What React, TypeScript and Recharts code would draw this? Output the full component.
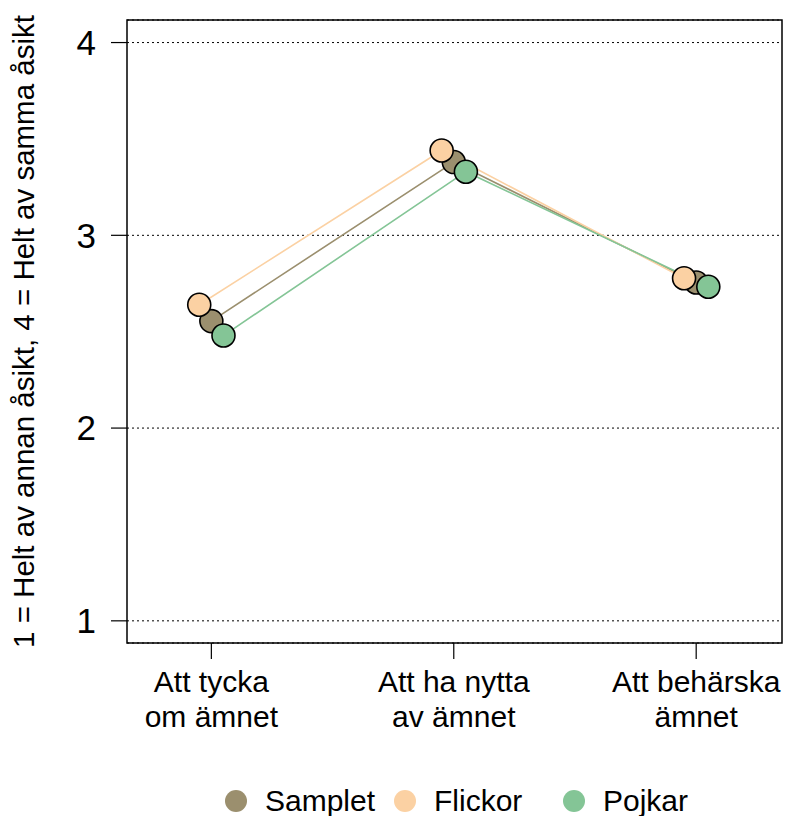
import React from "react";
import { ComposedChart, Line, Scatter, XAxis, YAxis, CartesianGrid, ReferenceArea, Legend } from "recharts";

// categories on the x axis (two lines each)
const categories = [
	["Att tycka", "om ämnet"],
	["Att ha nytta", "av ämnet"],
	["Att behärska", "ämnet"],
];
const yTicks = [1, 2, 3, 4];

// mean values
const samplet = [2.555, 3.38, 2.755];
const flickor = [2.64, 3.44, 2.777];
const pojkar = [2.48, 3.33, 2.733];

const seriesDefs = [
	{ name: "Samplet", values: samplet, color: "#9b8f6e", offset: 0 },
	{ name: "Flickor", values: flickor, color: "#fbd1a3", offset: -0.05 },
	{ name: "Pojkar", values: pojkar, color: "#84c596", offset: 0.05 },
];

const font = "'Liberation Sans', Arial, Helvetica, sans-serif";
const xDomain = [0.652, 3.354];
const yDomain = [0.885, 4.117];

const toPoints = (values: number[], offset: number) => values.map((v, i) => ({ x: i + 1 + offset, y: v }));

function CategoryTick(props: any) {
	const { x, y, payload } = props;
	const lines = categories[Math.round(payload.value) - 1] || [];
	return (
		<text x={x} textAnchor="middle" fontSize={30} fontFamily={font} fill="#000">
			{lines.map((l, i) => (
				<tspan key={i} x={x} y={y + 33 + i * 35}>{l}</tspan>
			))}
		</text>
	);
}

function YLabel(props: any) {
	const vb = props.viewBox || {};
	const cy = vb.y + vb.height / 2;
	return (
		<text x={23} y={cy} transform={`rotate(-90, 23, ${cy})`} textAnchor="middle" dominantBaseline="central" fontSize={29.5} fontFamily={font} fill="#000">
			1 = Helt av annan åsikt, 4 = Helt av samma åsikt
		</text>
	);
}

function LegendContent() {
	return (
		<div style={{ height: 50, paddingTop: 20, boxSizing: "border-box", display: "flex", alignItems: "center", paddingLeft: 225, fontFamily: font, fontSize: 30 }}>
			{seriesDefs.map(s => (
				<div key={s.name} style={{ width: 169, display: "flex", alignItems: "center", height: 30 }}>
					<span style={{ width: 22, height: 22, borderRadius: 11, background: s.color, display: "inline-block", marginRight: 18 }} />
					<span style={{ lineHeight: "30px" }}>{s.name}</span>
				</div>
			))}
		</div>
	);
}

export default function App() {
	return (
		<div style={{ position: "absolute", left: 0, top: 0, background: "#fff" }}>
			<ComposedChart width={786} height={816} margin={{ top: 20, right: 4, left: 0, bottom: 0 }}>
				<CartesianGrid vertical={false} stroke="#000" strokeDasharray="2 3" strokeWidth={1} />
				<XAxis type="number" dataKey="x" domain={xDomain} ticks={[1, 2, 3]} allowDataOverflow axisLine={false}
					tickLine={{ stroke: "#000", strokeWidth: 1.2 }} tickSize={16} tickMargin={0} height={123} tick={<CategoryTick />} interval={0} />
				<YAxis type="number" dataKey="y" domain={yDomain} ticks={yTicks} allowDataOverflow axisLine={false} width={127}
					tickLine={{ stroke: "#000", strokeWidth: 1.2 }} tickSize={16} tickMargin={15}
					tick={{ fontSize: 35, fontFamily: font, fill: "#000" }} label={{ content: <YLabel /> }} />
				<ReferenceArea x1={xDomain[0]} x2={xDomain[1]} y1={yDomain[0]} y2={yDomain[1]} fill="none" stroke="#000" strokeWidth={1.5} ifOverflow="visible" />
				{seriesDefs.map(s => (
					<Line key={"l" + s.name} data={toPoints(s.values, s.offset)} dataKey="y" stroke={s.color} strokeWidth={1.6} dot={false} activeDot={false} isAnimationActive={false} legendType="none" />
				))}
				{seriesDefs.map(s => (
					<Scatter key={"p" + s.name} name={s.name} data={toPoints(s.values, s.offset)} fill={s.color} isAnimationActive={false}
						shape={(p: any) => <circle cx={p.cx} cy={p.cy} r={11.5} fill={s.color} stroke="#000" strokeWidth={1.6} />} />
				))}
				<Legend verticalAlign="bottom" content={<LegendContent />} wrapperStyle={{ left: 0, width: 786 }} />
			</ComposedChart>
		</div>
	);
}
